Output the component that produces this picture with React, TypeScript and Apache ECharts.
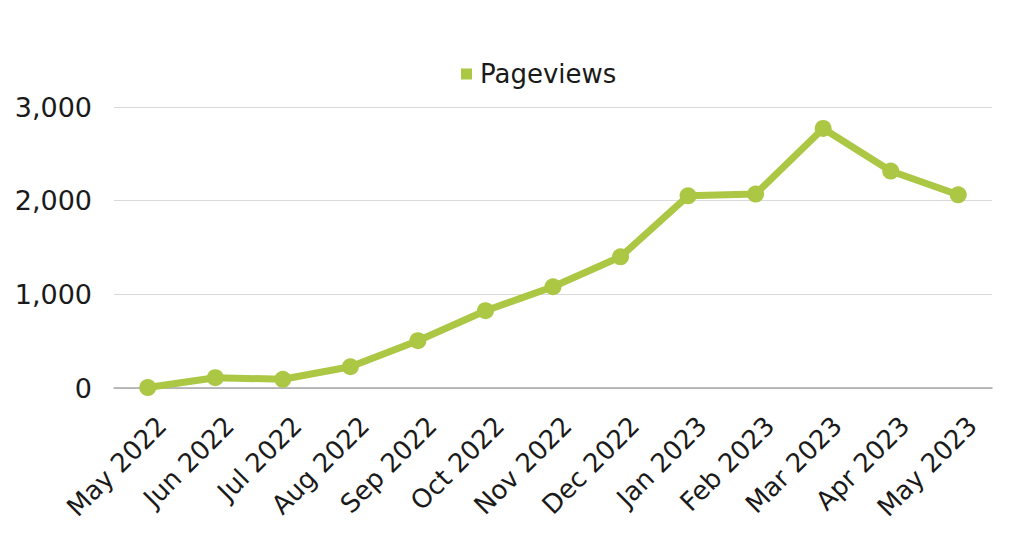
import React, { useEffect, useRef } from "react";
import * as echarts from "echarts";

const months = [
  "May 2022", "Jun 2022", "Jul 2022", "Aug 2022", "Sep 2022", "Oct 2022",
  "Nov 2022", "Dec 2022", "Jan 2023", "Feb 2023", "Mar 2023", "Apr 2023", "May 2023",
];
const pageviews = [5, 110, 93, 227, 505, 825, 1081, 1401, 2052, 2070, 2771, 2316, 2063];
const yTicks = { min: 0, max: 3000, interval: 1000 };

const FONT = "'DejaVu Sans', 'Noto Sans', sans-serif";
const GREEN = "#abc744";

export default function App() {
  const ref = useRef<HTMLDivElement>(null);
  useEffect(() => {
    if (!ref.current) return;
    const chart = echarts.init(ref.current, null, { renderer: "svg" });
    chart.setOption({
      animation: false,
      backgroundColor: "#ffffff",
      legend: {
        top: 56,
        left: 456,
        itemWidth: 11,
        itemHeight: 11,
        icon: "rect",
        itemGap: 8,
        textStyle: { fontFamily: FONT, fontSize: 26, color: "#1a1a1a", padding: [0, 0, 0, 3] },
        data: [{ name: "Pageviews", itemStyle: { color: GREEN } }],
      },
      grid: { left: 114, right: 32, top: 107, bottom: 155, containLabel: false },
      xAxis: {
        type: "category",
        data: months,
        boundaryGap: true,
        axisLine: { lineStyle: { color: "#a6a6a6", width: 1.5 } },
        axisTick: { show: false },
        axisLabel: {
          rotate: 45,
          interval: 0,
          margin: 19,
          verticalAlign: "top",
          lineHeight: 40,
          fontFamily: FONT,
          fontSize: 26,
          color: "#1a1a1a",
        },
      },
      yAxis: {
        type: "value",
        min: yTicks.min,
        max: yTicks.max,
        interval: yTicks.interval,
        axisLine: { show: false },
        axisTick: { show: false },
        splitLine: { lineStyle: { color: "#d9d9d9", width: 1.2 } },
        axisLabel: {
          margin: 22,
          fontFamily: FONT,
          fontSize: 27,
          color: "#1a1a1a",
          formatter: (v: number) => v.toLocaleString("en-US"),
        },
      },
      series: [
        {
          name: "Pageviews",
          type: "line",
          data: pageviews,
          symbol: "circle",
          symbolSize: 17,
          lineStyle: { color: GREEN, width: 7 },
          itemStyle: { color: GREEN },
        },
      ],
    });
    return () => chart.dispose();
  }, []);
  return <div ref={ref} style={{ width: 1024, height: 543, position: "absolute", left: 0, top: 0 }} />;
}
